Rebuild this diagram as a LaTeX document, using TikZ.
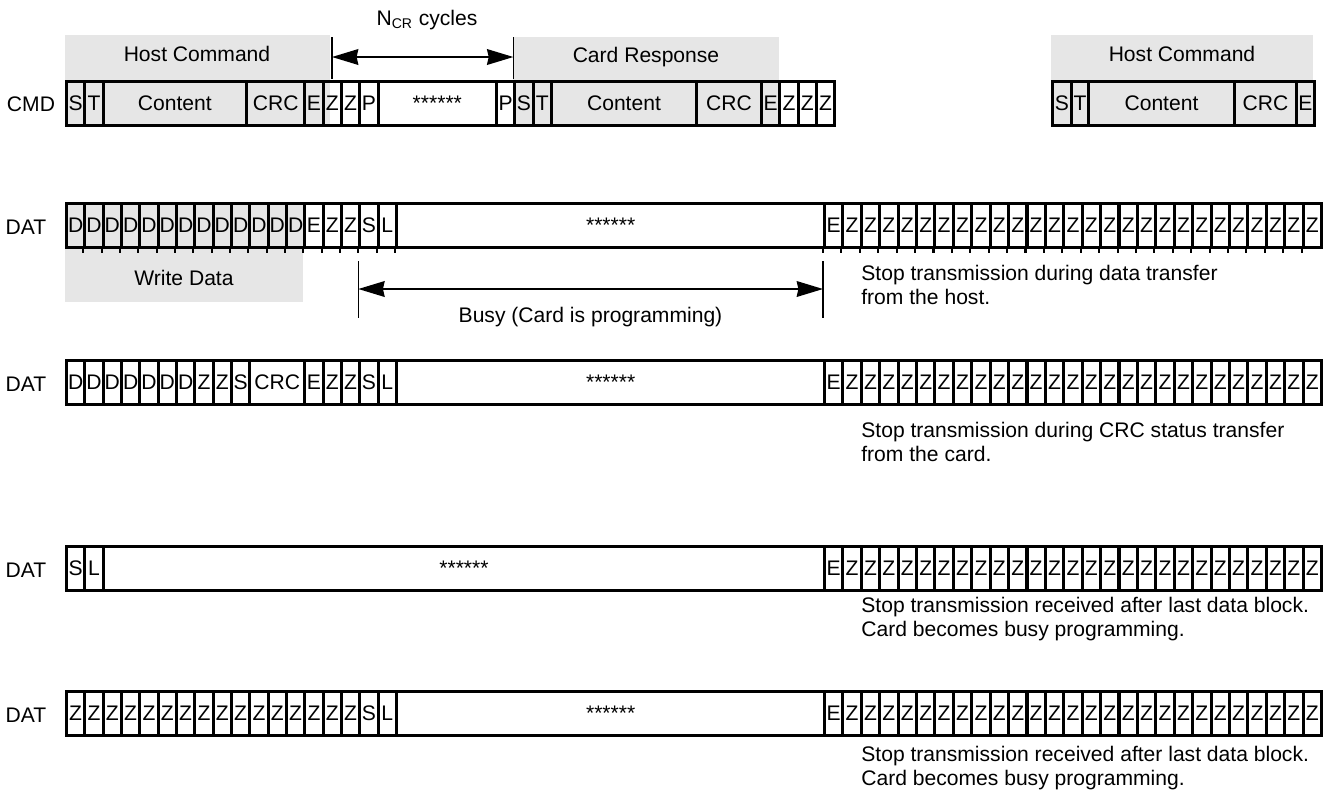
\documentclass[tikz,border=0pt]{standalone}
\usepackage{fontspec}
\setmainfont{Liberation Sans}
\usetikzlibrary{arrows.meta, positioning, calc}
\definecolor{FieldGray}{HTML}{E6E6E6}

\begin{document}
\begin{tikzpicture}[x=0.02cm, y=-0.02cm, >={Stealth[length=15pt, width=9pt, inset=1pt]},
    every node/.style={font=\fontsize{12pt}{13.6pt}\selectfont},
    bit/.style={draw, line width=1.7pt, inner sep=0pt, anchor=south west,
                minimum width=0.3667cm, minimum height=0.88cm},
    wide/.style={bit, minimum width=#1*0.02cm},
    caption/.style={anchor=west, align=left, inner sep=0pt},
    marker/.style={line width=0.8pt},
    tick/.style={line width=1.2pt}]
\useasboundingbox (0,0) rectangle (1323,799);

% gray fields behind the cells
\fill[FieldGray] (65,35) rectangle (330,127);
\fill[FieldGray] (513.33,37) rectangle (779,127);
\fill[FieldGray] (1051,35) rectangle (1313,127);
\fill[FieldGray] (65,205) rectangle (303.33,302);
\node (hostA) at (197,54) {Host Command};
\node (cardR) at (646,57) {Card Response};
\node (hostB) at (1182,54) {Host Command};
\node (wdata) at (184,278) {Write Data};

% CMD line
\node (cmd) at (31,104) {CMD};
\node[bit] (cS) at (65,127) {S};
\node[bit] (cT) at (83.33,127) {T};
\node[wide=143.33] (cCont) at (101.67,127) {Content};
\node[wide=58.33] (cCRC) at (245,127) {CRC};
\node[bit] (cE) at (303.33,127) {E};
\node[bit] (cZ1) at (321.67,127) {Z};
\node[bit] (cZ2) at (340,127) {Z};
\node[bit] (cP1) at (358.33,127) {P};
\node[wide=118.33] (cWait) at (376.67,127) {******};
\node[bit] (cP2) at (495,127) {P};
\node[bit] (rS) at (513.33,127) {S};
\node[bit] (rT) at (531.67,127) {T};
\node[wide=145] (rCont) at (550,127) {Content};
\node[wide=65] (rCRC) at (695,127) {CRC};
\node[bit] (rE) at (760,127) {E};
\foreach \i in {1,2,3}
  \node[bit] (rZ\i) at ({760+18.333*\i},127) {Z};
\node[wide=19] (nS) at (1051,127) {S};
\node[wide=17] (nT) at (1070,127) {T};
\node[wide=146] (nCont) at (1087,127) {Content};
\node[wide=62] (nCRC) at (1233,127) {CRC};
\node[wide=18] (nE) at (1295,127) {E};

% N_CR gap
\coordinate (ncrA) at (332,37);
\coordinate (ncrB) at (513.33,37);
\draw[marker] (ncrA) -- ++(0,42);
\draw[marker] (ncrB) -- ++(0,42);
\draw[marker, <->] ($(ncrA)+(0,20)$) -- ($(ncrB)+(0,20)$);
\node (ncr) at (427,20) {N\textsubscript{CR} cycles};

% DAT lines
\node (dat1) at (26,227) {DAT};
\node (dat2) at (26,384) {DAT};
\node (dat3) at (26,570) {DAT};
\node (dat4) at (26,715) {DAT};

% line 1: write data
\foreach \i in {0,...,12}
  \node[bit] (aD\i) at ({65+18.333*\i},249) {D};
% line 2: CRC status
\foreach \i in {0,...,6}
  \node[bit] (bD\i) at ({65+18.333*\i},406) {D};
\node[bit] (bZ1) at (193.33,406) {Z};
\node[bit] (bZ2) at (211.67,406) {Z};
\node[bit] (bS) at (230,406) {S};
\node[wide=55] (bCRC) at (248.33,406) {CRC};
% common tail of lines 1 and 2
\foreach \y/\r in {249/a,406/b} {
  \node[bit] (\r E) at (303.33,\y) {E};
  \node[bit] (\r Z3) at (321.67,\y) {Z};
  \node[bit] (\r Z4) at (340,\y) {Z};
  \node[bit] (\r S2) at (358.33,\y) {S};
  \node[bit] (\r L) at (376.67,\y) {L};
  \node[wide=428.33] (\r Busy) at (395,\y) {******};
}
% line 3
\node[bit] (cS2) at (65,592) {S};
\node[bit] (cL) at (83.33,592) {L};
\node[wide=721.67] (cBusy) at (101.67,592) {******};
% line 4
\foreach \i in {0,...,15}
  \node[bit] (dZ\i) at ({65+18.333*\i},737) {Z};
\node[bit] (dS2) at (358.33,737) {S};
\node[bit] (dL) at (376.67,737) {L};
\node[wide=428.33] (dBusy) at (395,737) {******};
% stop bit and high-Z tail on every DAT line
\foreach \y/\r in {249/a,406/b,592/c,737/d} {
  \node[bit] (\r Stop) at (823,\y) {E};
  \foreach \i in {1,...,26}
    \node[bit] (\r T\i) at ({823+18.41*\i},\y) {Z};
}

% short ticks under line 1
\foreach \n in {aD1,aD2,aD3,aD4,aD5,aD6,aD7,aD8,aD9,aD10,aD11,aD12,aE,aZ3,aZ4,aS2,aL,aBusy,aStop}
  \draw[tick] (\n.south west) -- ++(0,4);
\foreach \i in {1,...,26}
  \draw[tick] (aT\i.south west) -- ++(0,4);

% busy interval
\coordinate (busyA) at (358.33,261);
\coordinate (busyB) at (823,261);
\draw[marker] (busyA) -- ++(0,57);
\draw[marker] (busyB) -- ++(0,57);
\draw[marker, <->] ($(busyA)+(0,28)$) -- ($(busyB)+(0,28)$);
\node (busy) at (590.5,317) {Busy (Card is programming)};

% notes
\node[caption] (note1) at (861,285) {Stop transmission during data transfer\\from the host.};
\node[caption] (note2) at (861,442) {Stop transmission during CRC status transfer\\from the card.};
\node[caption] (note3) at (861,619) {Stop transmission received after last data block.\\Card becomes busy programming.};
\node[caption] (note4) at (861,768) {Stop transmission received after last data block.\\Card becomes busy programming.};
\end{tikzpicture}
\end{document}
